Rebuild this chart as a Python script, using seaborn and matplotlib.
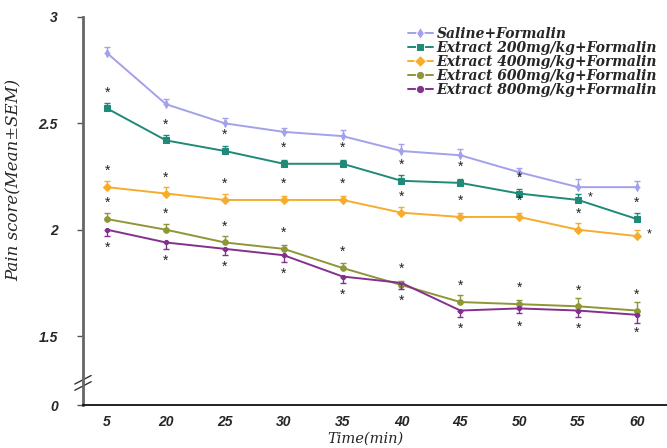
import numpy as np
import pandas as pd
import matplotlib
matplotlib.use("Agg")
import matplotlib.pyplot as plt
import seaborn as sns

# ---------------- data ----------------
times = ["5", "20", "25", "30", "35", "40", "45", "50", "55", "60"]
groups = ["Saline+Formalin", "Extract 200mg/kg+Formalin", "Extract 400mg/kg+Formalin",
          "Extract 600mg/kg+Formalin", "Extract 800mg/kg+Formalin"]
saline = [2.83, 2.59, 2.50, 2.46, 2.44, 2.37, 2.35, 2.27, 2.20, 2.20]
ext200 = [2.57, 2.42, 2.37, 2.31, 2.31, 2.23, 2.22, 2.17, 2.14, 2.05]
ext400 = [2.20, 2.17, 2.14, 2.14, 2.14, 2.08, 2.06, 2.06, 2.00, 1.97]
ext600 = [2.05, 2.00, 1.94, 1.91, 1.82, 1.74, 1.66, 1.65, 1.64, 1.62]
ext800 = [2.00, 1.94, 1.91, 1.88, 1.78, 1.75, 1.62, 1.63, 1.62, 1.60]
sem_saline = [0.03, 0.025, 0.025, 0.02, 0.03, 0.035, 0.03, 0.02, 0.04, 0.03]
sem_ext200 = [0.025, 0.025, 0.025, 0.02, 0.02, 0.025, 0.02, 0.02, 0.03, 0.03]
sem_ext400 = [0.03, 0.03, 0.03, 0.02, 0.02, 0.025, 0.02, 0.02, 0.03, 0.03]
sem_ext600 = [0.03, 0.025, 0.03, 0.02, 0.025, 0.02, 0.035, 0.02, 0.04, 0.04]
sem_ext800 = [0.03, 0.03, 0.03, 0.03, 0.03, 0.03, 0.03, 0.02, 0.03, 0.04]
# significance star placement per point: 'up', 'down', 'right' or ''
stars_saline = [""] * 10
stars_ext200 = ["up", "up", "up", "up", "up", "up", "up", "up", "right", "up"]
stars_ext400 = ["up", "up", "up", "up", "up", "up", "up", "up", "up", "right"]
stars_ext600 = ["up"] * 10
stars_ext800 = ["down"] * 10
ytick_values = [1.176, 1.5, 2.0, 2.5, 3.0]
ytick_labels = ["0", "1.5", "2", "2.5", "3"]
axis_break_value = 1.28

values = [saline, ext200, ext400, ext600, ext800]
sems = [sem_saline, sem_ext200, sem_ext400, sem_ext600, sem_ext800]
stars = [stars_saline, stars_ext200, stars_ext400, stars_ext600, stars_ext800]
err_dir = ["up", "up", "up", "up", "down"]

colors = ["#a3a0ec", "#1f8a78", "#f5ad2e", "#8e9636", "#84308f"]
markers = ["d", "s", "D", "o", "o"]
msizes = [4, 5, 4, 4, 3]

rows = []
for g, vals in zip(groups, values):
    for i, (t, v) in enumerate(zip(times, vals)):
        rows.append({"group": g, "pos": i, "time": t, "score": v})
df = pd.DataFrame(rows)

# ---------------- figure ----------------
sns.set_style("ticks")
plt.rcParams["font.family"] = ["Liberation Sans", "DejaVu Sans"]
serif = ["DejaVu Serif", "Liberation Serif"]

fig = plt.figure(figsize=(6.67, 4.48), dpi=100)
ax = fig.add_axes([83 / 667, 1 - 405 / 448, 1 - 83 / 667, (405 - 17) / 448])

sns.lineplot(data=df, x="pos", y="score", hue="group", style="group",
             hue_order=groups, style_order=groups, palette=colors,
             markers=markers, dashes=False, linewidth=1.4, ax=ax,
             legend=True)
for line, ms, c in zip(ax.lines, msizes, colors):
    line.set_markersize(ms)
    line.set_markeredgecolor(c)

x = np.arange(len(times))
for vals, s, c, d in zip(values, sems, colors, err_dir):
    v = np.array(vals)
    s = np.array(s)
    if d == "up":
        yerr = [np.zeros_like(s), s]
    else:
        yerr = [s, np.zeros_like(s)]
    ax.errorbar(x, v, yerr=yerr, fmt="none", ecolor=c, elinewidth=1.0,
                capsize=2.5, capthick=1.0)

for vals, st in zip(values, stars):
    for i, (v, p) in enumerate(zip(vals, st)):
        if p == "up":
            ax.text(i, v + 0.075, "*", ha="center", va="center", fontsize=10,
                    color="#222222")
        elif p == "down":
            ax.text(i, v - 0.085, "*", ha="center", va="center", fontsize=10,
                    color="#222222")
        elif p == "right":
            ax.text(i + 0.2, v + 0.01, "*", ha="center", va="center", fontsize=9,
                    color="#222222")

ax.set_xlim(-0.41, 9.51)
ax.set_ylim(ytick_values[0], 3.0)
ax.set_xticks(x)
ax.set_xticklabels(times, fontsize=10, fontweight="bold", fontstyle="italic")
ax.set_yticks(ytick_values)
ax.set_yticklabels(ytick_labels, fontsize=10, fontweight="bold", fontstyle="italic")
ax.tick_params(axis="x", length=0, pad=7)
ax.tick_params(axis="y", length=4, width=1, direction="out", pad=14,
               color="#555555")

for sp in ["top", "right"]:
    ax.spines[sp].set_visible(False)
ax.spines["left"].set_color("#666666")
ax.spines["left"].set_linewidth(2.0)
ax.spines["bottom"].set_color("#111111")
ax.spines["bottom"].set_linewidth(1.3)

# axis break marks
yb = (axis_break_value - ytick_values[0]) / (3.0 - ytick_values[0])
for dy in (-0.008, 0.008):
    ax.plot([-0.014, 0.014], [yb + dy - 0.011, yb + dy + 0.011],
            transform=ax.transAxes, color="#333333", lw=1.0, clip_on=False)

ax.set_xlabel("Time(min)", fontsize=10.5, fontstyle="italic", family=serif)
ax.xaxis.set_label_coords(0.483, -0.069)
ax.set_ylabel("Pain score(Mean±SEM)", fontsize=12, fontstyle="italic",
              family=serif)
ax.yaxis.set_label_coords(-0.103, 0.58)

handles, labels = ax.get_legend_handles_labels()
leg = ax.legend(handles, labels, loc="upper right", bbox_to_anchor=(1.0, 1.0),
                frameon=False, handlelength=1.8, handletextpad=0.3,
                labelspacing=0.0, borderaxespad=0.3,
                prop={"family": serif, "style": "italic", "weight": "bold",
                      "size": 10})

fig.savefig("out.png", dpi=100)
